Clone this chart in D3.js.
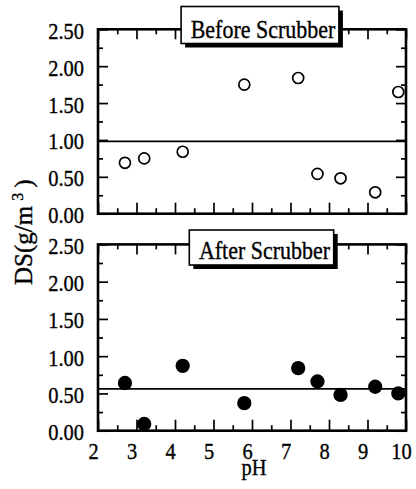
<!DOCTYPE html>
<html>
<head>
<meta charset="utf-8">
<script src="https://cdn.jsdelivr.net/npm/d3@7"></script>
<style>
  html, body { margin: 0; padding: 0; background: #fff; }
  svg { display: block; }
  svg text { stroke: #000; stroke-width: 0.35px; }
</style>
</head>
<body>
<svg id="chart" width="416" height="489" font-family="'Liberation Serif', 'Times New Roman', Times, 'DejaVu Serif', serif"></svg>
<script>
// pH of each sample and dust concentration DS (g/m3) before / after the scrubber
const pH        = [2.7, 3.2, 4.2, 5.8, 7.2, 7.7, 8.3, 9.2, 9.8];
const dsBefore  = [0.69, 0.75, 0.84, 1.75, 1.84, 0.54, 0.48, 0.29, 1.65];
const dsAfter   = [0.64, 0.09, 0.87, 0.37, 0.84, 0.66, 0.48, 0.59, 0.50];
const xTickVals = [2, 3, 4, 5, 6, 7, 8, 9, 10];
const yTickVals = [0, 0.5, 1.0, 1.5, 2.0, 2.5];
const panelTitles = ["Before Scrubber", "After Scrubber"];

const serif = "'Liberation Serif', 'Times New Roman', Times, 'DejaVu Serif', serif";
const svg = d3.select("#chart");
const left = 98, right = 406;
const panels = [
  { top: 29.3, bottom: 213.7, values: dsBefore, filled: false, title: panelTitles[0], boxCx: 260, boxTop: 6.5, boxBottom: 43.5 },
  { top: 244.4, bottom: 430.7, values: dsAfter, filled: true, title: panelTitles[1], boxCx: 261.5, boxTop: 230, boxBottom: 265 }
];

const x = d3.scaleLinear().domain([2, 10]).range([left, right]);
const xMinor = d3.range(2.5, 10, 1);
const fontSz = 23.5, squeeze = 0.87;

panels.forEach((p, i) => {
  const y = d3.scaleLinear().domain([0, 2.5]).range([p.bottom, p.top]);
  const yMinor = d3.range(0.25, 2.5, 0.5);
  const g = svg.append("g");

  // inward tick marks on all four sides
  const tickLayer = (axis, tx, ty) => {
    const a = g.append("g").attr("transform", `translate(${tx},${ty})`).call(axis);
    a.select(".domain").remove();
    a.selectAll("line").attr("stroke", "#000").attr("stroke-width", 1.7);
    a.selectAll("text").remove();
  };
  tickLayer(d3.axisBottom(x).tickValues(xTickVals).tickSize(-11), 0, p.bottom);
  tickLayer(d3.axisBottom(x).tickValues(xMinor).tickSize(-5.5), 0, p.bottom);
  tickLayer(d3.axisTop(x).tickValues(xTickVals).tickSize(-10), 0, p.top);
  tickLayer(d3.axisTop(x).tickValues(xMinor).tickSize(-5), 0, p.top);
  tickLayer(d3.axisLeft(y).tickValues(yTickVals).tickSize(-10), left, 0);
  tickLayer(d3.axisLeft(y).tickValues(yMinor).tickSize(-5), left, 0);
  tickLayer(d3.axisRight(y).tickValues(yTickVals).tickSize(-10), right, 0);
  tickLayer(d3.axisRight(y).tickValues(yMinor).tickSize(-5), right, 0);

  // frame
  g.append("rect")
    .attr("x", left).attr("y", p.top)
    .attr("width", right - left).attr("height", p.bottom - p.top)
    .attr("fill", "none").attr("stroke", "#000").attr("stroke-width", 2.6);

  // y tick labels
  g.selectAll(".ylab").data(yTickVals).join("text")
    .attr("class", "ylab")
    .attr("font-family", serif)
    .attr("text-anchor", "end")
    .attr("font-size", fontSz)
    .attr("transform", d => `translate(${left - 14},${y(d) + 9.5}) scale(${squeeze},1)`)
    .text(d => d.toFixed(2));

  // mean level line
  const m = d3.mean(p.values);
  g.append("line")
    .attr("x1", left).attr("x2", right)
    .attr("y1", y(m)).attr("y2", y(m))
    .attr("stroke", "#000").attr("stroke-width", 1.7);

  // data points
  const pts = pH.map((v, k) => ({ x: v, y: p.values[k] }));
  g.selectAll("circle.pt").data(pts).join("circle")
    .attr("class", "pt")
    .attr("cx", d => x(d.x)).attr("cy", d => y(d.y))
    .attr("r", p.filled ? 6.3 : 5.5)
    .attr("fill", p.filled ? "#000" : "#fff")
    .attr("stroke", "#000").attr("stroke-width", 1.7);

  // panel title box with drop shadow
  const tg = g.append("g");
  const shadow = tg.append("rect");
  const box = tg.append("rect");
  const t = tg.append("text")
    .attr("font-family", serif)
    .attr("font-size", 25)
    .attr("text-anchor", "middle")
    .attr("transform", `translate(${p.boxCx + 3},${p.boxBottom - 5.8}) scale(0.88,1)`)
    .text(p.title);
  const bw = t.node().getBBox().width * 0.88 + 13;
  const bx = p.boxCx - bw / 2;
  shadow.attr("x", bx + 4).attr("y", p.boxTop + 4)
    .attr("width", bw).attr("height", p.boxBottom - p.boxTop)
    .attr("fill", "#000");
  box.attr("x", bx).attr("y", p.boxTop)
    .attr("width", bw).attr("height", p.boxBottom - p.boxTop)
    .attr("fill", "#fff").attr("stroke", "#000").attr("stroke-width", 1.6);
});

// x tick labels under the lower panel
const bottomY = panels[1].bottom;
svg.selectAll(".xlab").data(xTickVals).join("text")
  .attr("class", "xlab")
  .attr("font-family", serif)
  .attr("text-anchor", "middle")
  .attr("font-size", fontSz)
  .attr("transform", d => `translate(${x(d) - 4.5},${bottomY + 28.5}) scale(${squeeze},1)`)
  .text(d => d);

// axis titles
svg.append("text")
  .attr("font-family", serif)
  .attr("text-anchor", "middle")
  .attr("font-size", 23.5)
  .attr("transform", `translate(${(left + right) / 2 + 2},${bottomY + 44}) scale(${squeeze},1)`)
  .text("pH");

const yt = svg.append("text")
  .attr("font-family", serif)
  .attr("font-size", 25)
  .attr("transform", "translate(32,285) rotate(-90)");
yt.append("tspan").text("DS(g/m");
yt.append("tspan").attr("font-size", 16).attr("dy", -9).attr("dx", 5).text("3");
yt.append("tspan").attr("dy", 9).attr("dx", 5).text(")");
</script>
</body>
</html>
